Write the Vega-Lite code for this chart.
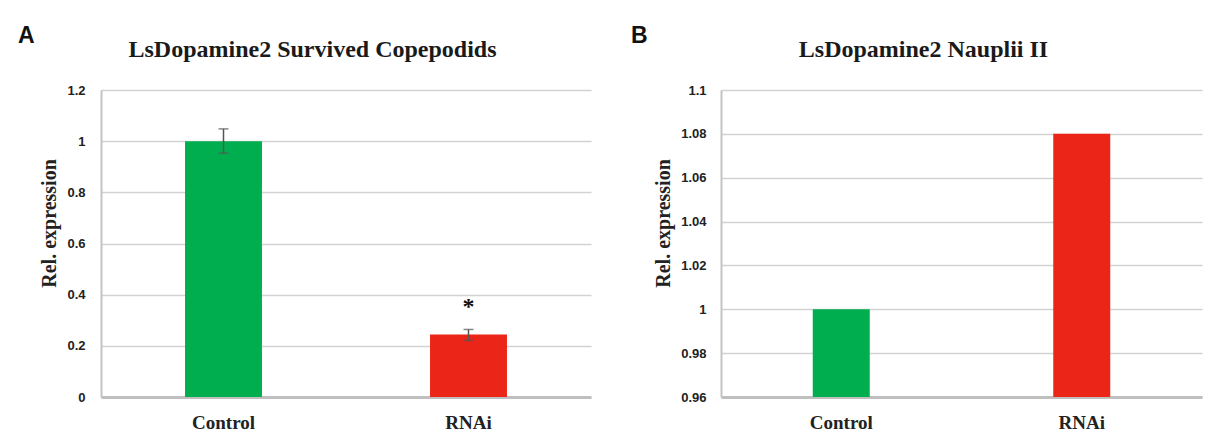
{
  "$schema": "https://vega.github.io/schema/vega-lite/v6.json",
  "background": "white",
  "padding": {"left": 18, "top": 25, "right": 5, "bottom": 5},
  "spacing": 40,
  "config": {
    "view": {"stroke": null},
    "axis": {
      "ticks": false,
      "tickSize": 0,
      "domainColor": "#C4C4C4",
      "domainWidth": 2,
      "gridColor": "#D2D2D2",
      "gridWidth": 1.5,
      "labelFont": "Liberation Sans",
      "labelFontWeight": "bold",
      "labelFontSize": 13,
      "labelColor": "#222222",
      "titleFont": "Liberation Serif",
      "titleFontWeight": "bold",
      "titleFontSize": 20,
      "titleColor": "#222222"
    },
    "title": {
      "font": "Liberation Sans",
      "fontSize": 23,
      "fontWeight": "bold",
      "color": "#111111",
      "anchor": "start",
      "frame": "bounds",
      "offset": 0
    }
  },
  "hconcat": [
    {
      "title": {"text": "A", "dx": -21, "dy": 15},
      "width": 490,
      "height": 307,
      "data": {
        "values": [
          {"group": "Control", "value": 1.0, "lower": 0.953, "upper": 1.048},
          {"group": "RNAi", "value": 0.244, "lower": 0.221, "upper": 0.264, "sig": "*"}
        ]
      },
      "layer": [
        {
          "mark": {"type": "bar"},
          "encoding": {
            "x": {
              "field": "group", "type": "nominal", "sort": null,
              "scale": {"paddingInner": 0.686, "paddingOuter": 0.343},
              "axis": {"orient": "bottom", "title": null, "labelAngle": 0, "labelFont": "Liberation Serif", "labelFontSize": 19, "labelPadding": 16, "domainWidth": 3, "domainColor": "#BFBFBF", "grid": false}
            },
            "y": {
              "field": "value", "type": "quantitative",
              "scale": {"domain": [0, 1.2], "nice": false, "zero": false},
              "axis": {"title": "Rel. expression", "values": [0, 0.2, 0.4, 0.6, 0.8, 1, 1.2], "format": "~g", "labelPadding": 16, "minExtent": 40, "maxExtent": 40, "titlePadding": 2, "titleY": 133}
            },
            "y2": {"datum": 0},
            "color": {
              "field": "group", "type": "nominal",
              "scale": {"domain": ["Control", "RNAi"], "range": ["#00AE4F", "#EB2517"]},
              "legend": null
            }
          }
        },
        {
          "mark": {"type": "rule", "color": "#555555", "strokeWidth": 1.5},
          "encoding": {
            "x": {"field": "group", "type": "nominal", "sort": null, "axis": null},
            "y": {
              "field": "lower", "type": "quantitative",
              "scale": {"domain": [0, 1.2], "nice": false, "zero": false},
              "axis": {"title": "Rel. expression", "values": [0, 0.2, 0.4, 0.6, 0.8, 1, 1.2], "format": "~g", "labelPadding": 16, "minExtent": 40, "maxExtent": 40, "titlePadding": 2, "titleY": 133}
            },
            "y2": {"field": "upper"}
          }
        },
        {
          "mark": {"type": "tick", "color": "#555555", "thickness": 1.5, "size": 10},
          "encoding": {
            "x": {"field": "group", "type": "nominal", "sort": null, "axis": null},
            "y": {
              "field": "upper", "type": "quantitative",
              "scale": {"domain": [0, 1.2], "nice": false, "zero": false},
              "axis": {"title": "Rel. expression", "values": [0, 0.2, 0.4, 0.6, 0.8, 1, 1.2], "format": "~g", "labelPadding": 16, "minExtent": 40, "maxExtent": 40, "titlePadding": 2, "titleY": 133}
            }
          }
        },
        {
          "mark": {"type": "tick", "color": "#555555", "thickness": 1.5, "size": 10},
          "encoding": {
            "x": {"field": "group", "type": "nominal", "sort": null, "axis": null},
            "y": {
              "field": "lower", "type": "quantitative",
              "scale": {"domain": [0, 1.2], "nice": false, "zero": false},
              "axis": {"title": "Rel. expression", "values": [0, 0.2, 0.4, 0.6, 0.8, 1, 1.2], "format": "~g", "labelPadding": 16, "minExtent": 40, "maxExtent": 40, "titlePadding": 2, "titleY": 133}
            }
          }
        },
        {
          "transform": [{"filter": "datum.sig"}],
          "mark": {"type": "text", "font": "Liberation Serif", "fontWeight": "bold", "fontSize": 24, "baseline": "middle", "dy": -22, "color": "#111111"},
          "encoding": {
            "x": {"field": "group", "type": "nominal", "sort": null, "axis": null},
            "y": {
              "field": "upper", "type": "quantitative",
              "scale": {"domain": [0, 1.2], "nice": false, "zero": false},
              "axis": {"title": "Rel. expression", "values": [0, 0.2, 0.4, 0.6, 0.8, 1, 1.2], "format": "~g", "labelPadding": 16, "minExtent": 40, "maxExtent": 40, "titlePadding": 2, "titleY": 133}
            },
            "text": {"field": "sig"}
          }
        },
        {
          "mark": {"type": "text", "text": ""},
          "encoding": {
            "x": {
              "field": "group", "type": "nominal", "sort": null,
              "axis": {"orient": "top", "labels": false, "domain": false, "grid": false, "title": "LsDopamine2 Survived Copepodids", "titleFontSize": 24, "titleColor": "#1A1A1A", "titleBaseline": "alphabetic", "titlePadding": 34, "titleX": 211}
            }
          }
        }
      ],
      "resolve": {"axis": {"x": "independent"}}
    },
    {
      "title": {"text": "B", "dx": -22, "dy": 15},
      "width": 481,
      "height": 307,
      "data": {
        "values": [
          {"group": "Control", "value": 1.0},
          {"group": "RNAi", "value": 1.08}
        ]
      },
      "layer": [
        {
          "mark": {"type": "bar"},
          "encoding": {
            "x": {
              "field": "group", "type": "nominal", "sort": null,
              "scale": {"paddingInner": 0.763, "paddingOuter": 0.3815},
              "axis": {"orient": "bottom", "title": null, "labelAngle": 0, "labelFont": "Liberation Serif", "labelFontSize": 19, "labelPadding": 16, "domainWidth": 3, "domainColor": "#BFBFBF", "grid": false}
            },
            "y": {
              "field": "value", "type": "quantitative",
              "scale": {"domain": [0.96, 1.1], "nice": false, "zero": false},
              "axis": {"title": "Rel. expression", "values": [0.96, 0.98, 1, 1.02, 1.04, 1.06, 1.08, 1.1], "format": "~g", "labelPadding": 15, "minExtent": 46, "maxExtent": 46, "titlePadding": 2, "titleY": 133}
            },
            "y2": {"datum": 0.96},
            "color": {
              "field": "group", "type": "nominal",
              "scale": {"domain": ["Control", "RNAi"], "range": ["#00AE4F", "#EB2517"]},
              "legend": null
            }
          }
        },
        {
          "mark": {"type": "text", "text": ""},
          "encoding": {
            "x": {
              "field": "group", "type": "nominal", "sort": null,
              "axis": {"orient": "top", "labels": false, "domain": false, "grid": false, "title": "LsDopamine2 Nauplii II", "titleFontSize": 24, "titleColor": "#1A1A1A", "titleBaseline": "alphabetic", "titlePadding": 34, "titleX": 202}
            }
          }
        }
      ],
      "resolve": {"axis": {"x": "independent"}}
    }
  ]
}
